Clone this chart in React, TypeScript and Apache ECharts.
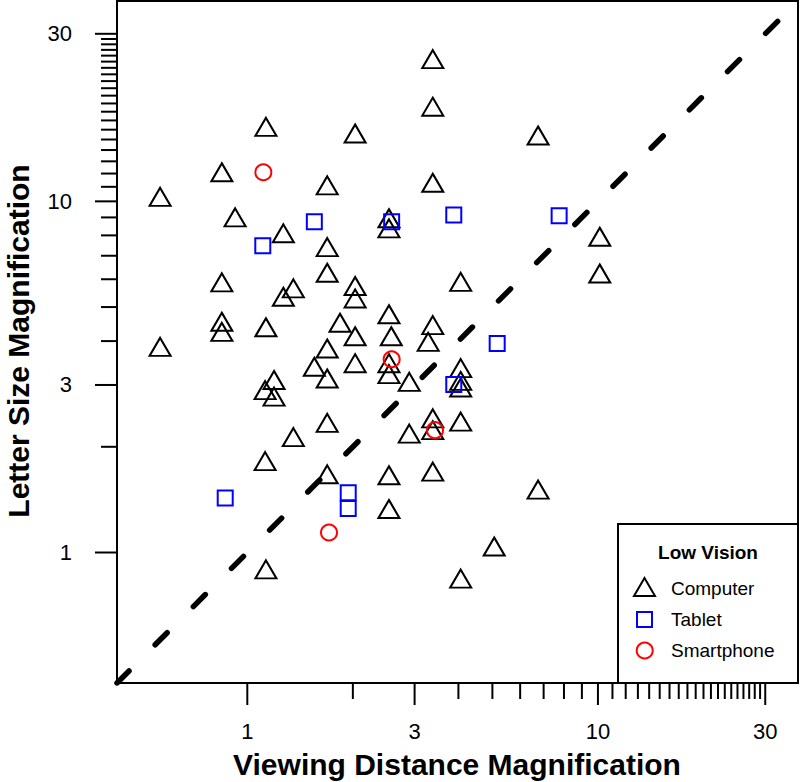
import React, { useEffect, useRef } from 'react';
import * as echarts from 'echarts';

// Axis range (log scale, same for both axes)
const AXIS_MIN = 0.425;
const AXIS_MAX = 37.2;

// Tick marks
const majorTicks = [1, 3, 10, 30];
const tickLabels = ['1', '3', '10', '30'];
const minorTicks = [2, 4, 5, 6, 7, 8, 9, 11, 12, 13, 14, 15, 16, 17, 18, 19, 20, 21, 22, 23, 24, 25, 26, 27, 28, 29];

// Computer (black triangles)
const computerX = [3.38, 3.38, 1.13, 2.03, 6.75, 0.846, 1.69, 3.38, 0.564, 0.923, 2.535, 2.535, 1.267, 10.12, 1.69, 1.69, 10.12, 0.846, 2.03, 1.353, 4.06, 1.267, 2.03, 2.535, 0.846, 1.838, 3.38, 1.13, 0.846, 2.03, 2.574, 3.28, 0.564, 1.69, 2.03, 2.535, 1.553, 4.06, 2.535, 1.69, 1.192, 4.06, 2.896, 4.06, 1.124, 1.192, 3.38, 4.06, 1.69, 3.38, 2.896, 1.353, 1.124, 3.38, 1.69, 2.535, 6.75, 2.535, 5.06, 1.13, 4.06];
const computerY = [25.4, 18.6, 16.3, 15.6, 15.4, 12.1, 11.1, 11.3, 10.3, 9.0, 8.95, 8.38, 8.11, 7.93, 7.41, 6.26, 6.23, 5.88, 5.74, 5.65, 5.9, 5.35, 5.29, 4.77, 4.54, 4.51, 4.44, 4.38, 4.25, 4.13, 4.13, 3.98, 3.85, 3.81, 3.46, 3.46, 3.38, 3.35, 3.22, 3.13, 3.1, 3.08, 3.06, 2.95, 2.9, 2.78, 2.41, 2.36, 2.34, 2.23, 2.18, 2.13, 1.82, 1.7, 1.67, 1.66, 1.51, 1.33, 1.04, 0.895, 0.843];

// Tablet (blue squares)
const tabletX = [1.553, 2.58, 3.88, 7.75, 1.107, 5.16, 3.88, 0.865, 1.94, 1.94];
const tabletY = [8.75, 8.75, 9.14, 9.1, 7.48, 3.94, 3.01, 1.43, 1.48, 1.335];

// Smartphone (red circles)
const phoneX = [1.111, 2.58, 3.43, 1.71];
const phoneY = [12.1, 3.55, 2.23, 1.14];

const FONT = '"Liberation Sans", Arial, Helvetica, sans-serif';

const zip = (xs: number[], ys: number[]) => xs.map((x, i) => [x, ys[i]]);

export default function App() {
  const ref = useRef<HTMLDivElement>(null);

  useEffect(() => {
    if (!ref.current) return;
    const chart = echarts.init(ref.current, null, { renderer: 'svg' });

    const logAxis = {
      type: 'log',
      logBase: 10,
      min: AXIS_MIN,
      max: AXIS_MAX,
      axisLine: { show: false },
      axisTick: { show: false },
      axisLabel: { show: false },
      splitLine: { show: false },
    };

    const tickData = (isX: boolean) => [
      ...majorTicks.map((v, i) => (isX ? [v, AXIS_MIN, 1, i] : [AXIS_MIN, v, 1, i])),
      ...minorTicks.map((v) => (isX ? [v, AXIS_MIN, 0, -1] : [AXIS_MIN, v, 0, -1])),
    ];

    const tickSeries = (isX: boolean) => ({
      type: 'custom',
      coordinateSystem: 'cartesian2d',
      silent: true,
      clip: false,
      encode: { x: 0, y: 1 },
      data: tickData(isX),
      renderItem: (_params: any, api: any) => {
        const p = api.coord([api.value(0), api.value(1)]);
        const major = api.value(2) === 1;
        const len = major ? 22 : 16;
        const children: any[] = [
          {
            type: 'line',
            shape: isX
              ? { x1: p[0], y1: p[1], x2: p[0], y2: p[1] + len }
              : { x1: p[0], y1: p[1], x2: p[0] - len, y2: p[1] },
            style: { stroke: '#000', lineWidth: 2 },
          },
        ];
        if (major) {
          children.push({
            type: 'text',
            x: isX ? p[0] : p[0] - 45,
            y: isX ? p[1] + 48 : p[1],
            style: {
              text: tickLabels[api.value(3)],
              align: isX ? 'center' : 'right',
              verticalAlign: 'middle',
              fill: '#000',
              fontSize: 22,
              fontFamily: FONT,
            },
          });
        }
        return { type: 'group', children };
      },
    });

    const option: any = {
      animation: false,
      backgroundColor: '#fff',
      grid: {
        left: 117,
        top: 1,
        width: 681,
        height: 682,
        show: true,
        borderColor: '#000',
        borderWidth: 2,
        backgroundColor: 'transparent',
        containLabel: false,
        outerBoundsMode: 'none',
      },
      xAxis: logAxis,
      yAxis: logAxis,
      series: [
        {
          name: 'Identity',
          type: 'line',
          data: [
            [AXIS_MIN, AXIS_MIN],
            [AXIS_MAX, AXIS_MAX],
          ],
          symbol: 'none',
          silent: true,
          lineStyle: { color: '#000', width: 5.5, type: [17, 37], cap: 'round' },
          z: 1,
        },
        {
          name: 'Computer',
          type: 'scatter',
          data: zip(computerX, computerY),
          symbol: 'triangle',
          symbolSize: [21, 18],
          itemStyle: { color: 'transparent', borderColor: '#000', borderWidth: 2, opacity: 1 },
          emphasis: { disabled: true },
          silent: true,
          z: 3,
        },
        {
          name: 'Tablet',
          type: 'scatter',
          data: zip(tabletX, tabletY),
          symbol: 'rect',
          symbolSize: 15,
          itemStyle: { color: 'transparent', borderColor: '#0000ff', borderWidth: 2, opacity: 1 },
          emphasis: { disabled: true },
          silent: true,
          z: 4,
        },
        {
          name: 'Smartphone',
          type: 'scatter',
          data: zip(phoneX, phoneY),
          symbol: 'circle',
          symbolSize: 16,
          itemStyle: { color: 'transparent', borderColor: '#ff0000', borderWidth: 2, opacity: 1 },
          emphasis: { disabled: true },
          silent: true,
          z: 5,
        },
        tickSeries(true),
        tickSeries(false),
      ],
      graphic: [
        {
          type: 'text',
          x: 457,
          y: 764,
          z: 50,
          style: {
            text: 'Viewing Distance Magnification',
            align: 'center',
            verticalAlign: 'middle',
            fill: '#000',
            fontSize: 30,
            fontWeight: 'bold',
            fontFamily: FONT,
          },
        },
        {
          type: 'text',
          x: 18,
          y: 341,
          rotation: Math.PI / 2,
          z: 50,
          style: {
            text: 'Letter Size Magnification',
            align: 'center',
            verticalAlign: 'middle',
            fill: '#000',
            fontSize: 30,
            fontWeight: 'bold',
            fontFamily: FONT,
          },
        },
        {
          type: 'rect',
          shape: { x: 618, y: 524, width: 180, height: 159 },
          style: { fill: '#fff', stroke: '#000', lineWidth: 2 },
          z: 100,
        },
        {
          type: 'text',
          x: 708,
          y: 552,
          z: 101,
          style: {
            text: 'Low Vision',
            align: 'center',
            verticalAlign: 'middle',
            fill: '#000',
            fontSize: 19,
            fontWeight: 'bold',
            fontFamily: FONT,
          },
        },
        {
          type: 'polygon',
          shape: { points: [[644.5, 578], [655, 596], [634, 596]] },
          style: { fill: 'none', stroke: '#000', lineWidth: 2 },
          z: 101,
        },
        {
          type: 'rect',
          shape: { x: 637, y: 612, width: 15, height: 15 },
          style: { fill: 'none', stroke: '#0000ff', lineWidth: 2 },
          z: 101,
        },
        {
          type: 'circle',
          shape: { cx: 644.7, cy: 650.5, r: 8 },
          style: { fill: 'none', stroke: '#ff0000', lineWidth: 2 },
          z: 101,
        },
        ...['Computer', 'Tablet', 'Smartphone'].map((t, i) => ({
          type: 'text',
          x: 671,
          y: 588.5 + i * 31,
          z: 101,
          style: {
            text: t,
            align: 'left',
            verticalAlign: 'middle',
            fill: '#000',
            fontSize: 19,
            fontFamily: FONT,
          },
        })),
      ],
    };

    chart.setOption(option);
    return () => chart.dispose();
  }, []);

  return (
    <div
      ref={ref}
      style={{ position: 'fixed', left: 0, top: 0, width: 800, height: 782, background: '#fff' }}
    />
  );
}
